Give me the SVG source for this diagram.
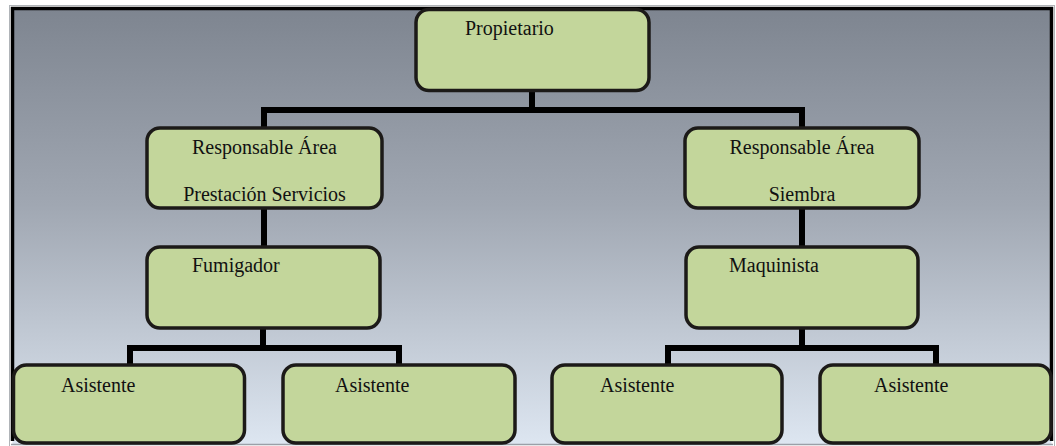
<svg xmlns="http://www.w3.org/2000/svg" width="1056" height="446" viewBox="0 0 1056 446">
  <defs>
    <linearGradient id="bg" x1="0" y1="0" x2="0" y2="1">
      <stop offset="0" stop-color="#7e8590"/>
      <stop offset="0.45" stop-color="#a0a7b2"/>
      <stop offset="1" stop-color="#dde6f1"/>
    </linearGradient>
  </defs>
  <style>
    .box { fill: #c3d69b; stroke: #1c1a18; stroke-width: 3.5; }
    .lbl { font-family: "Liberation Serif", "Times New Roman", serif; font-size: 20px; fill: #111; }
    .ctr { text-anchor: middle; }
    .con { fill: none; stroke: #000; stroke-width: 6; stroke-linejoin: miter; stroke-linecap: square; }
  </style>
  <rect x="0" y="0" width="1056" height="446" fill="#ffffff"/>
  <g id="frame">
    <rect x="12.5" y="8.5" width="1039" height="436" fill="url(#bg)"/>
    <rect x="9.5" y="5.5" width="1045" height="442" fill="none" stroke="#b0b4b8" stroke-width="1"/>
    <path d="M12.5 441 V8.5 H1051.5 V441" fill="none" stroke="#000" stroke-width="3.5"/>
    <path d="M11 444.5 H1053" fill="none" stroke="#9aa0a8" stroke-width="1.5"/>
  </g>

  <g id="connectors">
    <path class="con" d="M532 91 V110"/>
    <path class="con" d="M264 128 V110 H802 V128"/>
    <path class="con" d="M264 208 V247"/>
    <path class="con" d="M802 208 V247"/>
    <path class="con" d="M263 328 V348"/>
    <path class="con" d="M130 365 V348 H399 V365"/>
    <path class="con" d="M802 328 V348"/>
    <path class="con" d="M668 365 V348 H936 V365"/>
  </g>

  <g id="propietario">
    <rect class="box" x="416" y="9.5" width="233" height="81" rx="13"/>
    <text class="lbl" x="465" y="35">Propietario</text>
  </g>

  <g id="resp-servicios">
    <rect class="box" x="147" y="128" width="235" height="80" rx="13"/>
    <text class="lbl ctr" x="264.5" y="154">Responsable Área</text>
    <text class="lbl ctr" x="264.5" y="201">Prestación Servicios</text>
  </g>

  <g id="resp-siembra">
    <rect class="box" x="685" y="128" width="234" height="80" rx="13"/>
    <text class="lbl ctr" x="802" y="154">Responsable Área</text>
    <text class="lbl ctr" x="802" y="201">Siembra</text>
  </g>

  <g id="fumigador">
    <rect class="box" x="147" y="247" width="233" height="81" rx="13"/>
    <text class="lbl" x="192" y="272">Fumigador</text>
  </g>

  <g id="maquinista">
    <rect class="box" x="686" y="247" width="232" height="81" rx="13"/>
    <text class="lbl" x="729" y="272">Maquinista</text>
  </g>

  <g id="asistente-1">
    <rect class="box" x="13.5" y="365" width="231" height="78" rx="13"/>
    <text class="lbl" x="61" y="392">Asistente</text>
  </g>

  <g id="asistente-2">
    <rect class="box" x="283" y="365" width="232" height="78" rx="13"/>
    <text class="lbl" x="335" y="392">Asistente</text>
  </g>

  <g id="asistente-3">
    <rect class="box" x="552" y="365" width="230" height="78" rx="13"/>
    <text class="lbl" x="600" y="392">Asistente</text>
  </g>

  <g id="asistente-4">
    <rect class="box" x="820" y="365" width="231" height="78" rx="13"/>
    <text class="lbl" x="874" y="392">Asistente</text>
  </g>
</svg>
